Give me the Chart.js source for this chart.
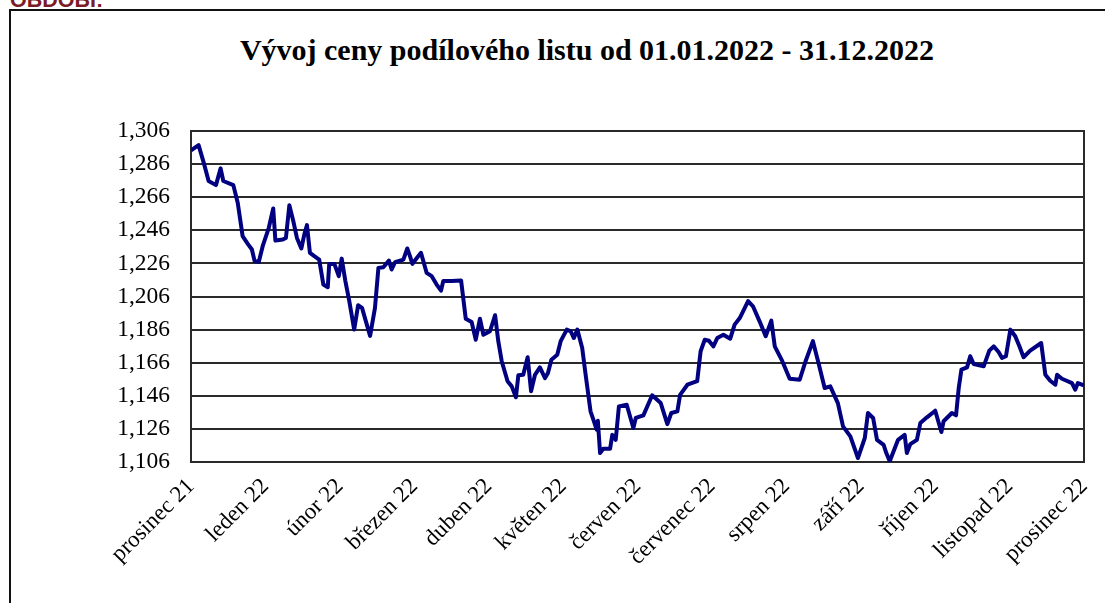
<!DOCTYPE html>
<html>
<head>
<meta charset="utf-8">
<script src="https://cdn.jsdelivr.net/npm/chart.js@4/dist/chart.umd.min.js"></script>
<style>
  body { margin: 0; background: #fff; overflow: hidden; }
  .wrap { position: relative; width: 1105px; height: 603px; overflow: hidden; }
  .frame { position: absolute; left: 9px; top: 9px; width: 1200px; height: 700px; border: 2px solid #111; }
  .head { position: absolute; left: 10px; top: -10px; font: bold 21.5px "Liberation Sans", Arial, sans-serif; line-height: 21.5px; color: #7a1c28; white-space: nowrap; }
  .title { position: absolute; left: 587px; top: 35px; transform: translateX(-50%); font: bold 30px "Liberation Serif", "Times New Roman", serif; line-height: 30px; color: #000; white-space: nowrap; }
  canvas { position: absolute; left: 0; top: 0; }
</style>
</head>
<body>
<div class="wrap">
  <div class="frame"></div>
  <div class="head">OBDOBÍ:</div>
  <div class="title">Vývoj ceny podílového listu od 01.01.2022 - 31.12.2022</div>
  <canvas id="chart" width="1105" height="603"></canvas>
</div>
<script>
// month labels along the bottom axis
const monthLabels = ['prosinec 21', 'leden 22', 'únor 22', 'březen 22', 'duben 22', 'květen 22',
  'červen 22', 'červenec 22', 'srpen 22', 'září 22', 'říjen 22', 'listopad 22', 'prosinec 22'];

// y axis ticks
const yTicks = [1.106, 1.126, 1.146, 1.166, 1.186, 1.206, 1.226, 1.246, 1.266, 1.286, 1.306];

// day of year
const days = [0, 3.1, 5.4, 7.2, 10.2, 12.1, 13.2, 17.3, 19.1, 21.1,
  23.2, 24.9, 26.0, 27.7, 29.3, 31.8, 33.6, 34.5, 37.5, 38.8,
  40.2, 41.8, 43.3, 45.1, 46.3, 47.4, 48.6, 50.4, 52.4, 54.1,
  55.9, 56.5, 58.6, 60.4, 61.6, 63.1, 64.7, 66.7, 68.3, 69.9,
  73.2, 75.2, 76.6, 78.6, 80.9, 82.0, 83.4, 86.8, 88.4, 89.5,
  90.5, 92.3, 94.0, 96.3, 98.4, 100.4, 102.2, 103.1, 106.6, 110.4,
  112.3, 114.7, 116.4, 118.1, 119.5, 122.2, 124.3, 125.6, 127.0, 129.4,
  131.1, 132.8, 133.8, 135.8, 137.6, 139.0, 140.6, 142.6, 144.7, 145.9,
  147.3, 149.7, 151.1, 153.6, 155.2, 156.5, 157.9, 159.9, 161.3, 163.3,
  164.7, 165.8, 166.3, 167.2, 168.5, 171.3, 172.2, 173.6, 174.9, 178.1,
  180.8, 181.8, 184.9, 188.5, 192.0, 194.7, 196.3, 198.8, 199.9, 202.9,
  206.9, 208.3, 210.0, 211.7, 213.5, 215.1, 217.6, 220.4, 222.2, 224.3,
  227.7, 229.7, 232.4, 234.9, 237.2, 238.6, 241.7, 244.7, 248.8, 251.2,
  254.2, 256.3, 259.0, 261.3, 264.4, 266.5, 269.5, 272.6, 275.4, 276.7,
  278.8, 280.4, 283.1, 284.2, 285.6, 286.9, 289.0, 291.7, 292.6, 294.0,
  296.7, 298.1, 300.8, 304.2, 306.7, 307.6, 311.0, 312.7, 313.8, 314.9,
  317.2, 318.5, 319.9, 324.0, 326.3, 328.1, 330.1, 331.5, 333.1, 334.9,
  336.9, 338.6, 340.3, 343.0, 347.5, 349.2, 351.2, 353.3, 354.0, 356.0,
  360.1, 361.4, 362.5, 364.9];

// unit price
const prices = [1.2943, 1.2975, 1.2858, 1.2758, 1.2733, 1.2834, 1.2758, 1.2733, 1.2626, 1.2425,
  1.2378, 1.2344, 1.2274, 1.2269, 1.2364, 1.2475, 1.2592, 1.2398, 1.2404, 1.2414,
  1.2612, 1.2516, 1.2414, 1.2350, 1.2434, 1.2491, 1.2324, 1.2304, 1.2283, 1.2132,
  1.2116, 1.2257, 1.2257, 1.2183, 1.2289, 1.2153, 1.2032, 1.1860, 1.2007, 1.1991,
  1.1822, 1.1991, 1.2233, 1.2237, 1.2277, 1.2223, 1.2267, 1.2283, 1.2350, 1.2304,
  1.2257, 1.2293, 1.2324, 1.2203, 1.2183, 1.2132, 1.2096, 1.2153, 1.2153, 1.2156,
  1.1926, 1.1906, 1.1799, 1.1926, 1.1829, 1.1850, 1.1947, 1.1790, 1.1669, 1.1548,
  1.1517, 1.1451, 1.1584, 1.1587, 1.1693, 1.1487, 1.1587, 1.1632, 1.1567, 1.1598,
  1.1678, 1.1708, 1.1790, 1.1860, 1.1850, 1.1809, 1.1860, 1.1749, 1.1587, 1.1366,
  1.1306, 1.1255, 1.1309, 1.1114, 1.1140, 1.1140, 1.1224, 1.1194, 1.1396, 1.1406,
  1.1265, 1.1326, 1.1342, 1.1463, 1.1416, 1.1289, 1.1356, 1.1366, 1.1466, 1.1527,
  1.1548, 1.1729, 1.1799, 1.1793, 1.1759, 1.1809, 1.1829, 1.1805, 1.1890, 1.1930,
  1.2032, 1.2001, 1.1910, 1.1820, 1.1914, 1.1759, 1.1669, 1.1563, 1.1557, 1.1669,
  1.1790, 1.1669, 1.1507, 1.1517, 1.1416, 1.1275, 1.1215, 1.1084, 1.1205, 1.1356,
  1.1326, 1.1194, 1.1164, 1.1114, 1.1064, 1.1114, 1.1194, 1.1224, 1.1114, 1.1168,
  1.1194, 1.1295, 1.1330, 1.1370, 1.1241, 1.1306, 1.1356, 1.1342, 1.1507, 1.1618,
  1.1632, 1.1699, 1.1652, 1.1638, 1.1733, 1.1759, 1.1725, 1.1689, 1.1699, 1.1860,
  1.1820, 1.1759, 1.1693, 1.1733, 1.1779, 1.1587, 1.1551, 1.1527, 1.1587, 1.1563,
  1.1537, 1.1497, 1.1537, 1.1523];

const dayMax = 365;

// box round the plot area
const plotBorder = {
  id: 'plotBorder',
  beforeDatasetsDraw(chart) {
    const { ctx, chartArea: a } = chart;
    ctx.save();
    ctx.strokeStyle = '#2a2a2a';
    ctx.lineWidth = 2;
    ctx.strokeRect(a.left, a.top, a.right - a.left, a.bottom - a.top);
    ctx.restore();
  }
};

new Chart(document.getElementById('chart'), {
  type: 'line',
  data: {
    datasets: [{
      data: days.map((d, i) => ({ x: d, y: prices[i] })),
      borderColor: '#000080',
      borderWidth: 4,
      pointRadius: 0,
      tension: 0,
      borderJoinStyle: 'round',
      fill: false
    }]
  },
  options: {
    responsive: false,
    animation: false,
    layout: { padding: { top: 131, right: 21, left: 0, bottom: 0 } },
    plugins: { legend: { display: false }, title: { display: false }, tooltip: { enabled: false } },
    scales: {
      x: {
        type: 'linear',
        min: 0,
        max: dayMax,
        grid: { display: false, drawTicks: false },
        border: { display: false },
        afterBuildTicks: (scale) => {
          scale.ticks = monthLabels.map((_, i) => ({ value: i * dayMax / 12 }));
        },
        afterFit: (scale) => {
          scale.height = 141;
          scale.paddingLeft = 0;
          scale.paddingRight = 0;
        },
        ticks: {
          autoSkip: false,
          maxRotation: 45,
          minRotation: 45,
          padding: 11,
          color: '#000',
          font: { family: '"Liberation Serif", "Times New Roman", serif', size: 23 },
          callback: (value, index) => monthLabels[index]
        }
      },
      y: {
        min: yTicks[0],
        max: yTicks[yTicks.length - 1],
        grid: { color: '#2a2a2a', lineWidth: 2, drawTicks: false },
        border: { display: false },
        afterBuildTicks: (scale) => {
          scale.ticks = yTicks.map(v => ({ value: v }));
        },
        afterFit: (scale) => { scale.width = 191; },
        ticks: {
          padding: 21,
          color: '#000',
          font: { family: '"Liberation Serif", "Times New Roman", serif', size: 23.5 },
          callback: (value) => value.toFixed(3).replace('.', ',')
        }
      }
    }
  },
  plugins: [plotBorder]
});
</script>
</body>
</html>
